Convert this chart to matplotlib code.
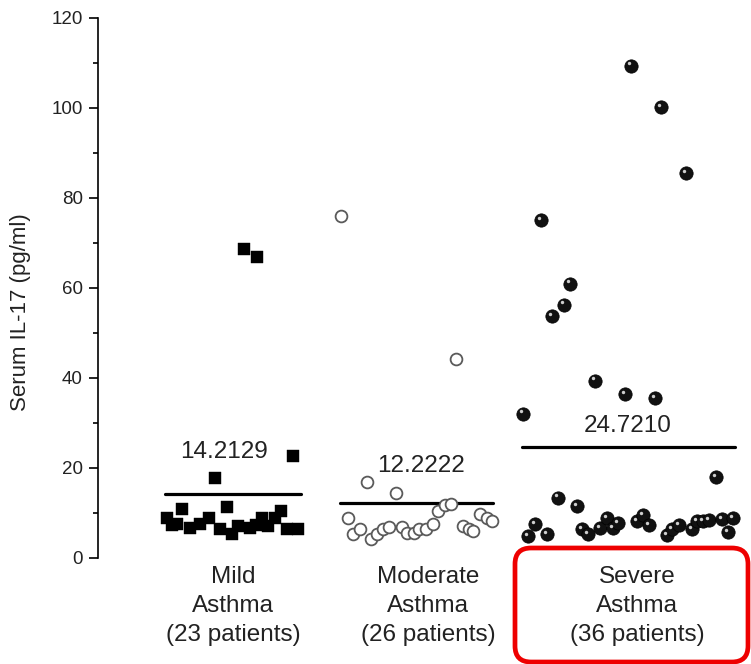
import matplotlib
matplotlib.use("Agg")
import matplotlib.pyplot as plt
import matplotlib.transforms as mtransforms
from matplotlib.patches import FancyBboxPatch
import numpy as np

plt.rcParams['font.family'] = ['Liberation Sans', 'DejaVu Sans']

# ---- data ----
groups = ["Mild\nAsthma\n(23 patients)", "Moderate\nAsthma\n(26 patients)", "Severe\nAsthma\n(36 patients)"]
group_pos = [1, 2, 3]
means = [14.2129, 12.2222, 24.7210]
mean_labels = ["14.2129", "12.2222", "24.7210"]

mild_vals = [68.6, 67.0, 22.7, 17.8, 8.9, 10.9, 7.6, 6.7, 7.6, 8.9, 6.5, 11.4, 5.3, 7.1,
             6.7, 8.9, 7.1, 8.9, 10.5, 6.5, 6.5, 7.4, 7.4]
mild_jit = [0.054, 0.119, 0.297, -0.089, -0.327, -0.252, -0.277, -0.213, -0.163, -0.119, -0.064,
            -0.030, -0.005, 0.025, 0.084, 0.144, 0.173, 0.208, 0.238, 0.267, 0.322, -0.302, 0.114]

mod_vals = [76.0, 44.3, 16.9, 14.5, 8.9, 5.3, 6.5, 4.2, 5.3, 6.5, 6.9, 6.9, 5.6, 5.6, 6.5,
            6.5, 7.6, 10.5, 11.8, 12.0, 7.1, 6.5, 6.0, 9.8, 8.9, 8.2]
mod_jit = [-0.465, 0.104, -0.337, -0.193, -0.431, -0.406, -0.371, -0.317, -0.287, -0.257, -0.228,
           -0.163, -0.139, -0.104, -0.079, -0.045, -0.010, 0.015, 0.050, 0.079, 0.139, 0.168,
           0.188, 0.223, 0.257, 0.282]

sev_vals = [109.4, 100.2, 85.5, 75.1, 61.0, 56.3, 53.7, 39.4, 36.5, 35.6, 32.1, 18.0, 13.4, 11.6,
            4.9, 7.6, 5.3, 6.5, 5.3, 6.7, 8.9, 6.7, 7.8, 8.2, 9.6, 7.3, 5.1, 6.5, 7.3, 6.5,
            8.2, 8.2, 8.5, 8.7, 8.9, 5.8]
sev_jit = [-0.030, 0.119, 0.243, -0.475, -0.332, -0.361, -0.421, -0.208, -0.059, 0.089, -0.564,
           0.391, -0.391, -0.297, -0.540, -0.505, -0.446, -0.272, -0.243, -0.183, -0.149, -0.119,
           -0.094, 0.0, 0.030, 0.059, 0.149, 0.173, 0.208, 0.272, 0.297, 0.327, 0.356, 0.421,
           0.475, 0.450]

yticks = [0, 20, 40, 60, 80, 100, 120]

# ---- layout ----
mean_line_ext = [(-0.337, 0.337), (-0.470, 0.287), (-0.569, 0.485)]
mean_text_off = [(-0.045, 9.4), (-0.069, 8.3), (-0.045, 4.6)]
label_off = [0.0, -0.035, 0.0]

W, H = 751, 664
fig = plt.figure(figsize=(W / 100, H / 100), dpi=100)
ax = fig.add_axes([98 / W, 106 / H, (745 - 98) / W, (558 - 18) / H])
ax.set_xlim(1 - 135 / 202, 1 + 512 / 202)
ax.set_ylim(0, 120)

# mild: black squares
ax.scatter(np.array(mild_jit) + group_pos[0], mild_vals, marker='s', s=64, c='black',
           edgecolors='black', linewidths=0.3, zorder=3, clip_on=False)
# moderate: open circles
ax.scatter(np.array(mod_jit) + group_pos[1], mod_vals, marker='o', s=72, facecolors='white',
           edgecolors='#5a5a5a', linewidths=1.3, zorder=3, clip_on=False)
# severe: shaded spheres
xs = np.array(sev_jit) + group_pos[2]
ax.scatter(xs, sev_vals, marker='o', s=92, c='#111111', edgecolors='#000000',
           linewidths=0.5, zorder=3, clip_on=False)
hl = ax.transData + mtransforms.ScaledTranslation(-1.6 / 72, 1.6 / 72, fig.dpi_scale_trans)
ax.scatter(xs, sev_vals, marker='o', s=6, c='#cfcfcf', linewidths=0, zorder=4,
           transform=hl, clip_on=False)

# mean lines and labels
for i, m in enumerate(means):
    x0, x1 = mean_line_ext[i]
    ax.plot([group_pos[i] + x0, group_pos[i] + x1], [m, m], color='black', lw=2.3,
            solid_capstyle='round', zorder=2)
    dx, dy = mean_text_off[i]
    ax.text(group_pos[i] + dx, m + dy, mean_labels[i], ha='center', va='center',
            fontsize=17.5, color='#222222')

# group labels
for i, g in enumerate(groups):
    ax.text(group_pos[i] + label_off[i], -1.8, g, ha='center', va='top', fontsize=17.5,
            color='#222222', linespacing=1.4, clip_on=False)

# axes styling
for s in ['top', 'right', 'bottom']:
    ax.spines[s].set_visible(False)
ax.spines['left'].set_linewidth(1.2)
ax.set_xticks([])
ax.set_yticks(yticks)
ax.set_yticks(np.arange(10, 120, 20), minor=True)
ax.tick_params(axis='y', which='major', direction='out', length=6.5, width=1.2,
               labelsize=13.5, labelcolor='#222222', pad=4.5)
ax.tick_params(axis='y', which='minor', direction='out', length=3.5, width=1.2)
ax.set_ylabel("Serum IL-17 (pg/ml)", fontsize=16, color='#222222')
ax.yaxis.set_label_coords(-0.1036, 0.456)

# red highlight box around severe label
box = FancyBboxPatch((515, 2), 233, 114, boxstyle="round,pad=0,rounding_size=16",
                     transform=mtransforms.IdentityTransform(), facecolor='none',
                     edgecolor='#ee0000', linewidth=3.4, clip_on=False)
fig.add_artist(box)

fig.savefig("out.png", dpi=100, facecolor='white')
